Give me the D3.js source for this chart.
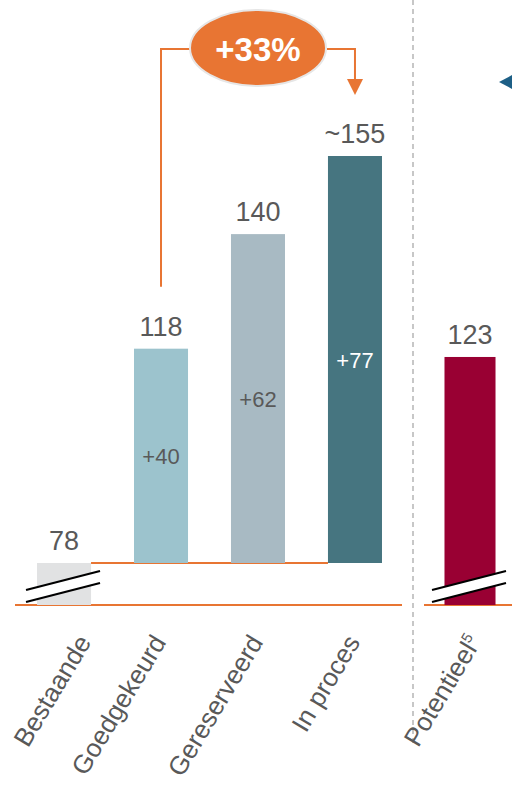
<!DOCTYPE html>
<html>
<head>
<meta charset="utf-8">
<script src="https://cdn.jsdelivr.net/npm/d3@7"></script>
<style>
  body { margin: 0; background: #fff; }
  svg text { font-family: Arial, "Liberation Sans", sans-serif; }
</style>
</head>
<body>
<div id="graphic"></div>
<script>
var categories = ["Bestaande", "Goedgekeurd", "Gereserveerd", "In proces", "Potentieel"];
var totals = [78, 118, 140, 155, 123];
var totalLabels = ["78", "118", "140", "~155", "123"];
var increments = [null, 40, 62, 77, null];
var incLabels = [null, "+40", "+62", "+77", null];
var colors = ["#e1e2e3", "#9cc3cd", "#a8bac3", "#467580", "#990033"];
var growthLabel = "+33%";

var chart = {};

chart.create = function() {
  var width = 512, height = 790, svg, x, y, yRight, g;
  var orange = "#e87533", grey = "#595959";

  svg = d3.select("#graphic").append("svg").attr("width", width).attr("height", height);

  x = d3.scaleBand().domain(categories.slice(0, 4)).range([15, 404]).paddingInner(0.443).paddingOuter(0.227);
  var xRight = d3.scaleBand().domain(categories.slice(4)).range([420, 520]).paddingInner(0).paddingOuter(0.48);
  function cx(d, i) {
    return i < 4 ? x(d) + x.bandwidth() / 2 : xRight(d) + xRight.bandwidth() / 2;
  }
  function bw(i) { return i < 4 ? x.bandwidth() : xRight.bandwidth(); }

  // left panel: bars grow from the broken base line
  var baseY = 563, axisY = 605;
  y = d3.scaleLinear().domain([78, 155]).range([557, 156]);
  // right panel has its own break
  yRight = d3.scaleLinear().domain([78, 155]).range([596, 187]);

  // dashed separator
  svg.append("line").attr("x1", 413).attr("x2", 413).attr("y1", 0).attr("y2", 745)
    .attr("stroke", "#aaaaaa").attr("stroke-width", 1.3).attr("stroke-dasharray", "5,4");

  // base lines
  svg.append("line").attr("x1", 15).attr("x2", 402).attr("y1", axisY).attr("y2", axisY)
    .attr("stroke", orange).attr("stroke-width", 2);
  svg.append("line").attr("x1", 424).attr("x2", width).attr("y1", axisY).attr("y2", axisY)
    .attr("stroke", orange).attr("stroke-width", 2);
  svg.append("line").attr("x1", x(categories[0]) + x.bandwidth()).attr("x2", x(categories[3]))
    .attr("y1", baseY).attr("y2", baseY).attr("stroke", orange).attr("stroke-width", 2);

  g = svg.append("g");
  categories.forEach(function(c, i) {
    var top, bottom, left = cx(c, i) - bw(i) / 2;
    if (i === 0) { top = baseY; bottom = axisY; }
    else if (i < 4) { top = y(totals[i]); bottom = baseY; }
    else { top = yRight(totals[i]); bottom = axisY; }
    g.append("rect").attr("x", left).attr("y", top).attr("width", bw(i)).attr("height", bottom - top)
      .attr("fill", colors[i]);
    g.append("text").attr("x", cx(c, i)).attr("y", top - 13).attr("text-anchor", "middle")
      .attr("font-size", 27).attr("fill", grey).text(totalLabels[i]);
    if (incLabels[i]) {
      g.append("text").attr("x", cx(c, i)).attr("y", (top + bottom) / 2 + 8).attr("text-anchor", "middle")
        .attr("font-size", 22).attr("fill", i === 3 ? "#ffffff" : grey).text(incLabels[i]);
    }
  });

  // axis break marks
  function breakMark(xc) {
    var x0 = xc - 38, x1 = xc + 36, a = 590, b = 571, h = 12;
    svg.append("polygon")
      .attr("points", [[x0, a], [x1, b], [x1, b + h], [x0, a + h]].map(function(p) { return p.join(","); }).join(" "))
      .attr("fill", "#ffffff");
    [0, h].forEach(function(o) {
      svg.append("line").attr("x1", x0).attr("y1", a + o).attr("x2", x1).attr("y2", b + o)
        .attr("stroke", "#000").attr("stroke-width", 2.2);
    });
  }
  breakMark(cx(categories[0], 0));
  breakMark(cx(categories[4], 4));

  // category labels
  categories.forEach(function(c, i) {
    var t = svg.append("text")
      .attr("transform", "translate(" + (cx(c, i) + (i === 0 ? 28 : i === 4 ? 12 : 6)) + ",642) rotate(-59)")
      .attr("text-anchor", "end").attr("font-size", 26).attr("fill", grey);
    t.append("tspan").text(c);
    if (i === 4) {
      t.append("tspan").attr("font-size", 15).attr("dy", -10).text("5");
    }
  });

  // growth bubble and connector
  var gx0 = cx(categories[1], 1), gx1 = cx(categories[3], 3), ly = 49;
  var ecx = 258, ecy = 48;
  svg.append("path")
    .attr("d", "M" + gx0 + "," + (y(totals[1]) - 62) + "V" + ly + "H" + (ecx - 66))
    .attr("fill", "none").attr("stroke", orange).attr("stroke-width", 2);
  svg.append("path")
    .attr("d", "M" + (ecx + 69) + "," + ly + "H" + gx1 + "V" + 80)
    .attr("fill", "none").attr("stroke", orange).attr("stroke-width", 2);
  svg.append("path")
    .attr("d", "M" + (gx1 - 8) + ",79L" + (gx1 + 8) + ",79L" + gx1 + ",95Z")
    .attr("fill", orange);
  svg.append("ellipse").attr("cx", ecx).attr("cy", ecy).attr("rx", 68).attr("ry", 38)
    .attr("fill", orange).attr("stroke", "#e6e6e6").attr("stroke-width", 2);
  svg.append("text").attr("x", ecx).attr("y", ecy + 13).attr("text-anchor", "middle")
    .attr("font-size", 33).attr("font-weight", "bold").attr("fill", "#ffffff").text(growthLabel);

  // arrow tip entering from the right panel
  svg.append("path").attr("d", "M499,82L514,74L514,90Z").attr("fill", "#1d5f86");
};

chart.create();
</script>
</body>
</html>
